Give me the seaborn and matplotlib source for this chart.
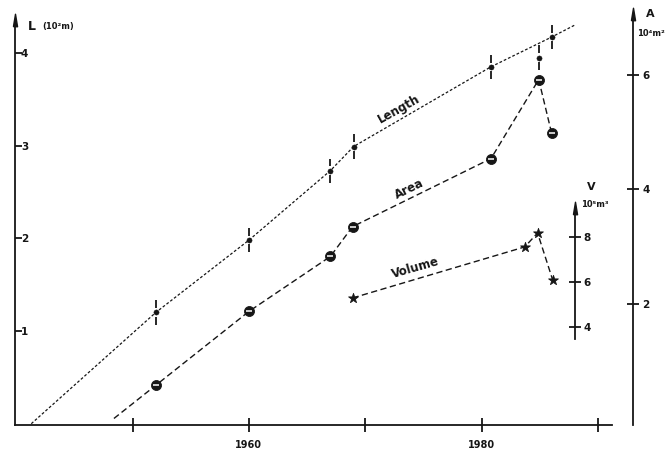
import matplotlib
matplotlib.use("Agg")
import matplotlib.pyplot as plt
import seaborn as sns

# Glacier-lake growth: length (10^2 m), area (10^4 m^2), volume (10^5 m^3)
len_years = [1952.0, 1960.0, 1967.0, 1969.0, 1980.8, 1984.9, 1986.0]
len_values = [1.20, 1.98, 2.73, 2.99, 3.85, 3.95, 4.17]
len_err = 0.13
len_line_years = [1941.3, 1952.0, 1960.0, 1967.0, 1969.0, 1980.8, 1986.0, 1988.0]
len_line_values = [0.0, 1.20, 1.98, 2.73, 2.99, 3.85, 4.17, 4.30]

area_years = [1952.0, 1960.0, 1967.0, 1968.9, 1980.8, 1984.9, 1986.0]
area_values = [0.58, 1.87, 2.83, 3.35, 4.54, 5.92, 4.99]
area_line_years = [1948.4] + area_years
area_line_values = [0.0] + area_values

vol_years = [1968.9, 1983.7, 1984.8, 1986.1]
vol_values = [5.29, 7.56, 8.18, 6.09]

x_ticks = [1950, 1960, 1970, 1980, 1990]
x_ticklabels = ["", "1960", "", "1980", ""]
l_ticks = [1, 2, 3, 4]
a_ticks = [2, 4, 6]
v_ticks = [4, 6, 8]

sns.set_style("white")
plt.rcParams['font.family'] = ['DejaVu Sans']
plt.rcParams['font.weight'] = 'bold'

INK = "#161616"
W, H = 669, 450
fig = plt.figure(figsize=(W / 100, H / 100), dpi=100)
ax = fig.add_axes([15 / W, (H - 425) / H, (633 - 15) / W, (425 - 8) / H])
ax.set_xlim(1939.9, 1993.0)
ax.set_ylim(-0.014, 4.484)
ax_a = ax.twinx()
ax_a.set_ylim(-0.114, 7.17)
ax_v = ax.twinx()
ax_v.set_ylim(-0.356, 18.18)
for a in (ax, ax_a, ax_v):
    a.set_facecolor("none")
    for s in a.spines.values():
        s.set_visible(False)
        s.set_color(INK)
        s.set_linewidth(1.3)

# --- axes lines ---
ax.spines['left'].set_visible(True)
ax.spines['left'].set_bounds(-0.014, 4.35)
ax.spines['bottom'].set_visible(True)
ax.spines['bottom'].set_bounds(1939.9, 1991.2)
ax_a.spines['right'].set_visible(True)
ax_a.spines['right'].set_bounds(-0.114, 7.06)
ax_v.spines['right'].set_visible(True)
ax_v.spines['right'].set_position(('data', 1988.0))
ax_v.spines['right'].set_bounds(3.45, 9.29)

arrow = [(-0.33, -1), (0, 1), (0.33, -1), (-0.33, -1)]
ax.plot([1939.9], [4.35], marker=arrow, ms=9, color=INK, clip_on=False)
ax_a.plot([1993.0], [7.06], marker=arrow, ms=9, color=INK, clip_on=False)
ax_v.plot([1988.0], [9.29], marker=arrow, ms=9, color=INK, clip_on=False)

# --- ticks ---
ax.set_xticks(x_ticks)
ax.set_xticklabels(x_ticklabels)
ax.tick_params(axis='x', direction='inout', length=10, width=1.3, pad=6,
               labelsize=7, colors=INK, bottom=True)
ax.set_yticks(l_ticks)
ax.tick_params(axis='y', direction='in', length=5, width=1.3, pad=-9.5,
               labelsize=7.5, colors=INK, left=True)
ax_a.set_yticks(a_ticks)
ax_a.tick_params(axis='y', direction='inout', length=9, width=1.3, pad=2,
                 labelsize=7.5, colors=INK, right=True)
ax_v.set_yticks(v_ticks)
ax_v.tick_params(axis='y', direction='inout', length=9, width=1.3, pad=2,
                 labelsize=7.5, colors=INK, right=True)
for a in (ax, ax_a, ax_v):
    for lab in a.get_xticklabels() + a.get_yticklabels():
        lab.set_fontweight('bold')

# --- Length ---
sns.lineplot(x=len_line_years, y=len_line_values, ax=ax, color=INK, lw=0.9,
             estimator=None, sort=False)
ax.lines[-1].set_dashes((2.2, 1.6))
sns.scatterplot(x=len_years, y=len_values, ax=ax, color=INK, s=14,
                edgecolor=INK, zorder=4)
gap = 0.045
ax.vlines(len_years, [v + gap for v in len_values], [v + len_err for v in len_values],
          color=INK, lw=1.3, zorder=4)
ax.vlines(len_years, [v - len_err for v in len_values], [v - gap for v in len_values],
          color=INK, lw=1.3, zorder=4)

# --- Area ---
sns.lineplot(x=area_line_years, y=area_line_values, ax=ax_a, color=INK, lw=1.0,
             estimator=None, sort=False)
ax_a.lines[-1].set_dashes((4.5, 2.5))
sns.scatterplot(x=area_years, y=area_values, ax=ax_a, color=INK, s=52,
                edgecolor=INK, zorder=4)
ax_a.plot(area_years, area_values, ls='none', marker='_', ms=4, mew=1.1,
          color='white', zorder=5)

# --- Volume ---
sns.lineplot(x=vol_years, y=vol_values, ax=ax_v, color=INK, lw=1.0,
             estimator=None, sort=False)
ax_v.lines[-1].set_dashes((4.5, 2.5))
sns.scatterplot(x=vol_years, y=vol_values, ax=ax_v, color=INK, s=55,
                marker='*', edgecolor=INK, zorder=4)

# --- curve names ---
ax.text(1972.9, 3.39, "Length", rotation=29, rotation_mode='anchor',
        ha='center', va='center', fontsize=8.5, fontweight='bold', color=INK)
ax_a.text(1973.8, 4.0, "Area", rotation=26, rotation_mode='anchor',
          ha='center', va='center', fontsize=8.5, fontweight='bold', color=INK)
ax_v.text(1974.3, 6.62, "Volume", rotation=16, rotation_mode='anchor',
          ha='center', va='center', fontsize=8.5, fontweight='bold', color=INK)

# --- axis names ---
fig.text(28 / W, 1 - 26 / H, "L", fontsize=9, fontweight='bold', color=INK,
         ha='left', va='center')
fig.text(42 / W, 1 - 26 / H, "(10²m)", fontsize=6, fontweight='bold', color=INK,
         ha='left', va='center')
fig.text(650 / W, 1 - 14 / H, "A", fontsize=8, fontweight='bold', color=INK,
         ha='center', va='center')
fig.text(637 / W, 1 - 34 / H, "10⁴m²", fontsize=6, fontweight='bold', color=INK,
         ha='left', va='center')
fig.text(591 / W, 1 - 187 / H, "V", fontsize=8, fontweight='bold', color=INK,
         ha='center', va='center')
fig.text(581 / W, 1 - 205 / H, "10⁵m³", fontsize=6, fontweight='bold', color=INK,
         ha='left', va='center')

fig.savefig("out.png", dpi=100)
